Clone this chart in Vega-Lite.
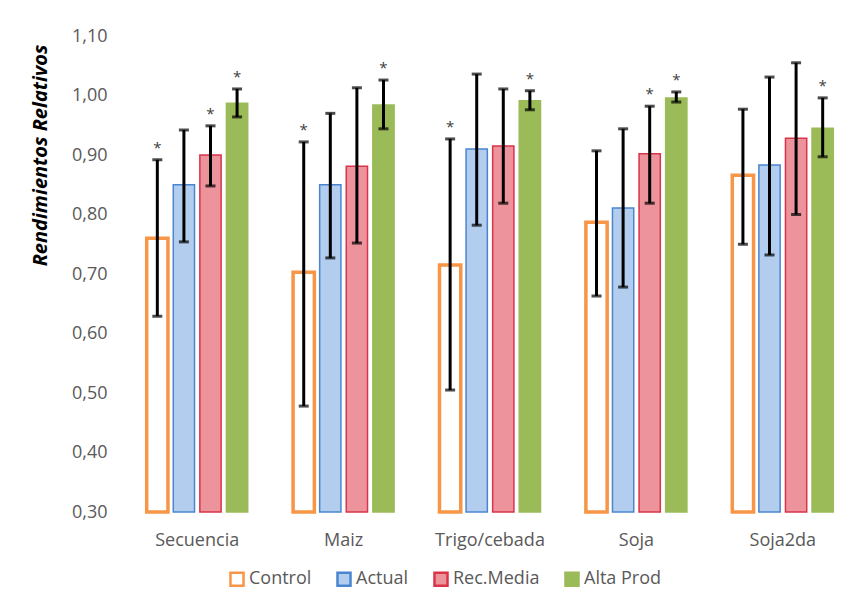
{
  "$schema": "https://vega.github.io/schema/vega-lite/v6.json",
  "autosize": {"type": "none"},
  "width": 732,
  "height": 476,
  "padding": {"left": 124, "top": 36, "right": 0, "bottom": 95},
  "background": "white",
  "config": {
    "locale": {"number": {"decimal": ",", "thousands": ".", "grouping": [3], "currency": ["", " €"]}},
    "view": {"stroke": null},
    "font": "Open Sans"
  },
  "data": {"values": [
    {"cat": "Secuencia", "series": "Control", "value": 0.76, "lo": 0.629, "hi": 0.892, "sig": "*"},
    {"cat": "Secuencia", "series": "Actual", "value": 0.85, "lo": 0.754, "hi": 0.942, "sig": ""},
    {"cat": "Secuencia", "series": "Rec.Media", "value": 0.90, "lo": 0.848, "hi": 0.949, "sig": "*"},
    {"cat": "Secuencia", "series": "Alta Prod", "value": 0.987, "lo": 0.964, "hi": 1.011, "sig": "*"},
    {"cat": "Maiz", "series": "Control", "value": 0.703, "lo": 0.478, "hi": 0.922, "sig": "*"},
    {"cat": "Maiz", "series": "Actual", "value": 0.85, "lo": 0.727, "hi": 0.97, "sig": ""},
    {"cat": "Maiz", "series": "Rec.Media", "value": 0.881, "lo": 0.752, "hi": 1.013, "sig": ""},
    {"cat": "Maiz", "series": "Alta Prod", "value": 0.984, "lo": 0.944, "hi": 1.026, "sig": "*"},
    {"cat": "Trigo/cebada", "series": "Control", "value": 0.715, "lo": 0.505, "hi": 0.927, "sig": "*"},
    {"cat": "Trigo/cebada", "series": "Actual", "value": 0.91, "lo": 0.782, "hi": 1.036, "sig": ""},
    {"cat": "Trigo/cebada", "series": "Rec.Media", "value": 0.915, "lo": 0.819, "hi": 1.011, "sig": ""},
    {"cat": "Trigo/cebada", "series": "Alta Prod", "value": 0.991, "lo": 0.976, "hi": 1.008, "sig": "*"},
    {"cat": "Soja", "series": "Control", "value": 0.787, "lo": 0.663, "hi": 0.907, "sig": ""},
    {"cat": "Soja", "series": "Actual", "value": 0.811, "lo": 0.678, "hi": 0.944, "sig": ""},
    {"cat": "Soja", "series": "Rec.Media", "value": 0.902, "lo": 0.819, "hi": 0.982, "sig": "*"},
    {"cat": "Soja", "series": "Alta Prod", "value": 0.996, "lo": 0.989, "hi": 1.006, "sig": "*"},
    {"cat": "Soja2da", "series": "Control", "value": 0.866, "lo": 0.75, "hi": 0.977, "sig": ""},
    {"cat": "Soja2da", "series": "Actual", "value": 0.883, "lo": 0.732, "hi": 1.031, "sig": ""},
    {"cat": "Soja2da", "series": "Rec.Media", "value": 0.928, "lo": 0.80, "hi": 1.055, "sig": ""},
    {"cat": "Soja2da", "series": "Alta Prod", "value": 0.945, "lo": 0.897, "hi": 0.996, "sig": "*"}
  ]},
  "encoding": {
    "x": {
      "field": "cat", "type": "nominal", "sort": null,
      "scale": {"paddingInner": 0.31, "paddingOuter": 0.155},
      "axis": {"title": null, "labelAngle": 0, "ticks": false, "domain": false, "labelFontSize": 18, "labelColor": "#595959", "labelPadding": 19, "labelFont": "Open Sans"}
    },
    "xOffset": {
      "field": "series", "type": "nominal", "sort": null,
      "scale": {"domain": ["Control", "Actual", "Rec.Media", "Alta Prod"], "paddingInner": 0.2, "paddingOuter": 0}
    }
  },
  "layer": [
    {
      "mark": {"type": "bar"},
      "encoding": {
        "y": {
          "field": "value", "type": "quantitative",
          "scale": {"domain": [0.3, 1.1], "zero": false, "nice": false},
          "axis": {
            "title": "Rendimientos Relativos", "format": ".2f", "values": [0.3, 0.4, 0.5, 0.6, 0.7, 0.8, 0.9, 1.0, 1.1],
            "grid": false, "ticks": false, "domain": false,
            "labelFontSize": 18, "labelColor": "#595959", "labelPadding": 17,
            "titleFontSize": 20, "titleFontWeight": "bold", "titleFontStyle": "italic", "titleColor": "#000000",
            "titleX": -84, "titleY": 119, "titleAngle": -90, "titleAlign": "center", "titleBaseline": "middle"
          }
        },
        "y2": {"datum": 0.3},
        "fill": {
          "field": "series", "type": "nominal", "sort": null,
          "scale": {"domain": ["Control", "Actual", "Rec.Media", "Alta Prod"], "range": ["#ffffff", "#b3cdee", "#ec939c", "#9bbb59"]},
          "legend": {
            "title": null, "orient": "none", "direction": "horizontal", "legendX": 104, "legendY": 534,
            "symbolType": "square", "symbolSize": 170, "symbolStrokeWidth": 2.5,
            "labelFontSize": 18, "labelColor": "#595959", "labelOffset": 3, "columnPadding": 20, "labelFont": "Open Sans"
          }
        },
        "stroke": {
          "field": "series", "type": "nominal", "sort": null,
          "scale": {"domain": ["Control", "Actual", "Rec.Media", "Alta Prod"], "range": ["#f79646", "#4a86cf", "#d9344a", "#9bbb59"]}
        },
        "strokeWidth": {"condition": {"test": "datum.series === 'Control'", "value": 3.5}, "value": 1.5}
      }
    },
    {
      "mark": {"type": "rule", "color": "#000000", "strokeWidth": 3},
      "encoding": {
        "y": {"field": "lo", "type": "quantitative"},
        "y2": {"field": "hi"}
      }
    },
    {
      "mark": {"type": "tick", "color": "#000000", "thickness": 3, "size": 10},
      "encoding": {"y": {"field": "lo", "type": "quantitative"}}
    },
    {
      "mark": {"type": "tick", "color": "#000000", "thickness": 3, "size": 10},
      "encoding": {"y": {"field": "hi", "type": "quantitative"}}
    },
    {
      "transform": [{"filter": "datum.sig !== ''"}],
      "mark": {"type": "text", "baseline": "bottom", "dy": -4, "fontSize": 15, "color": "#404040", "font": "Open Sans"},
      "encoding": {
        "y": {"field": "hi", "type": "quantitative"},
        "text": {"field": "sig"}
      }
    }
  ]
}
